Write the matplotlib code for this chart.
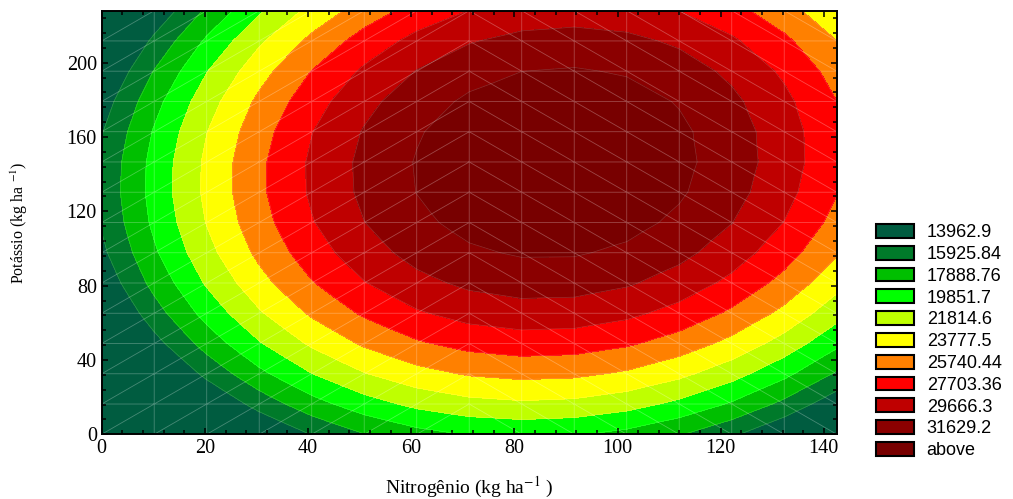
import numpy as np
import matplotlib as mpl
import matplotlib.pyplot as plt
import matplotlib.tri as mtri
from matplotlib.patches import Patch
from matplotlib.ticker import MultipleLocator

mpl.rcParams.update({
    "font.family": ["Liberation Serif", "DejaVu Serif"],
    "mathtext.fontset": "stix",
    "axes.linewidth": 1.4,
    "xtick.direction": "in",
    "ytick.direction": "in",
    "xtick.top": True,
    "ytick.right": True,
})

# fitted quadratic response surface  Z = f(N, K)
B0 = 1569.0
B_N = 407.28
B_K = 192.64
B_NN = -2.48
B_KK = -0.72
B_NK = 0.20

# sampling mesh of the original plot (15 x 15 nodes)
N_MAX = 142.5
K_MAX = 228.0
N_NODES = 15
K_NODES = 15
N_SPLIT = 7  # diagonals flip direction at this column

LEVELS = [13962.9, 15925.84, 17888.76, 19851.7, 21814.6,
          23777.5, 25740.44, 27703.36, 29666.3, 31629.2]
LEGEND_LABELS = ["13962.9", "15925.84", "17888.76", "19851.7", "21814.6",
                 "23777.5", "25740.44", "27703.36", "29666.3", "31629.2",
                 "above"]
COLORS = ["#005c40", "#007a2a", "#00bf00", "#00ff00", "#bfff00",
          "#ffff00", "#ff8000", "#ff0000", "#bf0000", "#8b0000",
          "#780000"]


def surface(n, k):
    return (B0 + B_N * n + B_K * k + B_NN * n ** 2 + B_KK * k ** 2
            + B_NK * n * k)


def build_mesh():
    n = np.linspace(0, N_MAX, N_NODES)
    k = np.linspace(0, K_MAX, K_NODES)
    nn, kk = np.meshgrid(n, k)
    tris = []
    for j in range(K_NODES - 1):
        for i in range(N_NODES - 1):
            a = j * N_NODES + i
            b = a + 1
            c = a + N_NODES
            d = c + 1
            if i < N_SPLIT:
                tris += [[a, b, d], [a, d, c]]
            else:
                tris += [[a, b, c], [b, d, c]]
    tri = mtri.Triangulation(nn.ravel(), kk.ravel(), np.array(tris))
    return tri, surface(nn.ravel(), kk.ravel())


def main():
    fig = plt.figure(figsize=(10.13, 4.99), dpi=100)
    ax = fig.add_axes([0.1004, 0.1297, 0.7256, 0.8489])

    tri, z = build_mesh()
    bounds = [-1e9] + LEVELS + [1e9]
    ax.tricontourf(tri, z, levels=bounds, colors=COLORS)
    ax.tricontour(tri, z, levels=LEVELS, colors="white",
                  linewidths=0.5, alpha=0.18)
    ax.triplot(tri, color="white", lw=0.6, alpha=0.28)

    ax.set_xlim(0, N_MAX)
    ax.set_ylim(0, K_MAX)
    ax.set_xticks(np.arange(0, 141, 20))
    ax.set_yticks(np.arange(0, 201, 40))
    ax.xaxis.set_minor_locator(MultipleLocator(4))
    ax.yaxis.set_minor_locator(MultipleLocator(8))
    ax.tick_params(which="both", direction="in", top=True, right=True,
                   width=1.1, labelsize=14.5)
    ax.tick_params(which="major", length=4)
    ax.tick_params(which="minor", length=3)

    ax.set_xlabel(r"Nitrogênio (kg ha$^{-1}$ )", fontsize=14, labelpad=12)
    ax.set_ylabel(r"Potássio (kg ha $^{-1}$)", fontsize=11.5, labelpad=26)

    handles = [Patch(facecolor=c, edgecolor="black", lw=1.5) for c in COLORS]
    fig.legend(handles, LEGEND_LABELS, loc="upper left",
               bbox_to_anchor=(0.856, 0.569), frameon=False,
               borderpad=0, handlelength=2.1, handleheight=0.8,
               handletextpad=0.7, labelspacing=0.255,
               prop={"family": "Liberation Sans", "size": 13})

    fig.savefig("out.png", dpi=100)
    plt.close(fig)


if __name__ == "__main__":
    main()
